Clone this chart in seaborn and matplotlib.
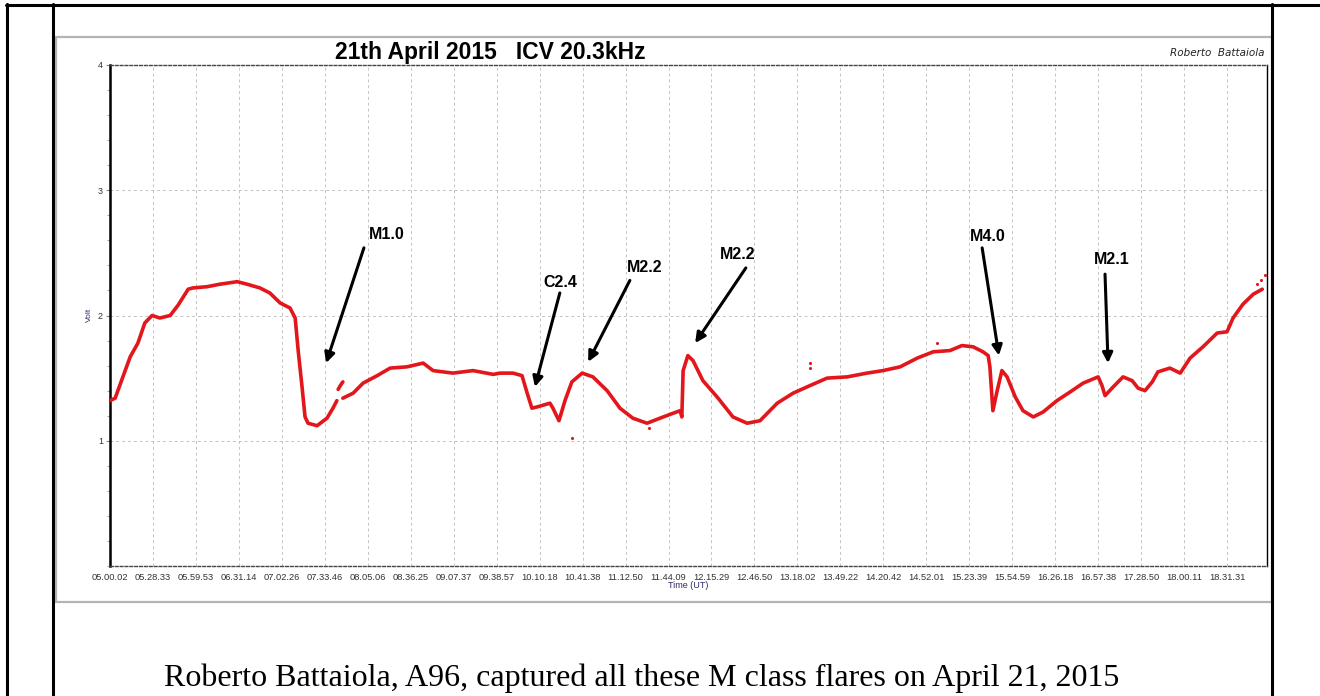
"""
VLF receiver trace, ICV 20.3 kHz, 21 April 2015 (R. Battaiola, A96).
Saves out.png (1320x696).
"""

import numpy as np
import pandas as pd
import matplotlib
matplotlib.use("Agg")
import matplotlib.pyplot as plt
from matplotlib.patches import Rectangle
from matplotlib.lines import Line2D
import seaborn as sns

# ── Data ───────────────────────────────────────────────────────────────────
# x is the position along the time axis in tick steps (0 = 05.00.02)
TIME_LABELS = [
    "05.00.02", "05.28.33", "05.59.53", "06.31.14", "07.02.26", "07.33.46",
    "08.05.06", "08.36.25", "09.07.37", "09.38.57", "10.10.18", "10.41.38",
    "11.12.50", "11.44.09", "12.15.29", "12.46.50", "13.18.02", "13.49.22",
    "14.20.42", "14.52.01", "15.23.39", "15.54.59", "16.26.18", "16.57.38",
    "17.28.50", "18.00.11", "18.31.31",
]

# before the M1.0 gap
pos_a = [0.00, 0.12, 0.30, 0.47, 0.65, 0.81, 0.98, 1.16, 1.40, 1.58, 1.82,
         1.93, 2.26, 2.56, 2.96, 3.19, 3.49, 3.72, 3.96, 4.19, 4.31, 4.38,
         4.47, 4.54, 4.61, 4.82, 5.05, 5.19, 5.28]
volt_a = [1.32, 1.34, 1.51, 1.67, 1.78, 1.94, 2.00, 1.98, 2.00, 2.08, 2.21,
          2.22, 2.23, 2.25, 2.27, 2.25, 2.22, 2.18, 2.10, 2.06, 1.98, 1.72,
          1.43, 1.19, 1.14, 1.12, 1.18, 1.26, 1.32]

# short fragment inside the gap
pos_b = [5.31, 5.36, 5.42]
volt_b = [1.41, 1.44, 1.47]

# rest of the day
pos_c = [5.42, 5.66, 5.89, 6.22, 6.52, 6.91, 7.29, 7.52, 7.98, 8.45, 8.92,
         9.08, 9.38, 9.59, 9.71, 9.82, 9.94, 10.24, 10.31, 10.45, 10.59,
         10.75, 10.99, 11.24, 11.57, 11.87, 12.17, 12.50, 12.80, 13.11,
         13.27, 13.31, 13.34, 13.45, 13.57, 13.80, 14.13, 14.50, 14.83,
         15.13, 15.53, 15.90, 16.29, 16.69, 17.16, 17.62, 17.99, 18.39,
         18.79, 19.16, 19.55, 19.83, 20.09, 20.32, 20.44, 20.48, 20.55,
         20.65, 20.76, 20.88, 21.07, 21.25, 21.49, 21.72, 22.04, 22.35,
         22.65, 23.00, 23.09, 23.16, 23.35, 23.58, 23.79, 23.93, 24.09,
         24.26, 24.39, 24.67, 24.91, 25.14, 25.44, 25.77, 26.00, 26.14,
         26.37, 26.61, 26.82]
volt_c = [1.34, 1.38, 1.46, 1.52, 1.58, 1.59, 1.62, 1.56, 1.54, 1.56, 1.53,
          1.54, 1.54, 1.52, 1.38, 1.26, 1.27, 1.30, 1.26, 1.16, 1.32,
          1.47, 1.54, 1.51, 1.40, 1.26, 1.18, 1.14, 1.18, 1.22,
          1.24, 1.19, 1.56, 1.68, 1.64, 1.48, 1.35, 1.19, 1.14,
          1.16, 1.30, 1.38, 1.44, 1.50, 1.51, 1.54, 1.56, 1.59,
          1.66, 1.71, 1.72, 1.76, 1.75, 1.71, 1.68, 1.59, 1.24,
          1.40, 1.56, 1.51, 1.35, 1.24, 1.19, 1.23, 1.32, 1.39,
          1.46, 1.51, 1.44, 1.36, 1.43, 1.51, 1.48, 1.42, 1.40,
          1.47, 1.55, 1.58, 1.54, 1.66, 1.75, 1.86, 1.87, 1.98,
          2.09, 2.17, 2.21]

# stray samples off the main trace
stray_pos = [10.75, 16.29, 16.29, 19.25, 26.88, 26.80, 26.70, 12.55]
stray_volt = [1.02, 1.58, 1.62, 1.78, 2.32, 2.28, 2.25, 1.10]

# flare labels: (text, text x/y, arrow tail x/y, arrow head x/y)
FLARES = [
    ("M1.0", 6.45, 2.65, 5.91, 2.54, 5.03, 1.62),
    ("C2.4", 10.47, 2.26, 10.47, 2.18, 9.89, 1.43),
    ("M2.2", 12.45, 2.38, 12.10, 2.28, 11.13, 1.63),
    ("M2.2", 14.60, 2.49, 14.80, 2.38, 13.62, 1.78),
    ("M4.0", 20.44, 2.63, 20.30, 2.54, 20.69, 1.68),
    ("M2.1", 23.32, 2.45, 23.16, 2.33, 23.23, 1.62),
]

TRACE_RED = "#e3161b"

df = pd.concat([
    pd.DataFrame({"pos": pos_a, "volt": volt_a, "seg": "a"}),
    pd.DataFrame({"pos": pos_b, "volt": volt_b, "seg": "b"}),
    pd.DataFrame({"pos": pos_c, "volt": volt_c, "seg": "c"}),
])
stray = pd.DataFrame({"pos": stray_pos, "volt": stray_volt})

# ── Figure ─────────────────────────────────────────────────────────────────
sns.set_theme(style="white")
plt.rcParams["font.family"] = ["Liberation Sans", "DejaVu Sans"]

W, H = 1320, 696
fig = plt.figure(figsize=(W / 100, H / 100), dpi=100)
fig.patch.set_facecolor("white")

def fx(px):
    return px / W

def fy(py):
    return 1 - py / H

# grey chart panel (behind the axes)
fig.patches.append(Rectangle((fx(56), fy(602)), fx(1272) - fx(56), fy(37) - fy(602),
                             transform=fig.transFigure, facecolor="none",
                             edgecolor="#b4b4b4", lw=1.6, zorder=-5))

ax = fig.add_axes([fx(110), fy(566), fx(1267) - fx(110), fy(65) - fy(566)])
ax.set_zorder(2)
ax.set_facecolor("white")

sns.lineplot(data=df, x="pos", y="volt", units="seg", estimator=None,
             sort=False, color=TRACE_RED, lw=2.6, ax=ax, zorder=3)
sns.scatterplot(data=stray, x="pos", y="volt", color=TRACE_RED, s=5,
                linewidth=0, ax=ax, zorder=3)

ax.set_xlim(0, 26.93)
ax.set_ylim(0, 4)
ax.set_xticks(range(len(TIME_LABELS)))
ax.set_xticklabels(TIME_LABELS, fontsize=6.7, color="#333333")
ax.set_yticks([1, 2, 3, 4])
ax.set_yticklabels(["1", "2", "3", "4"], fontsize=6.5, color="#333333")
ax.set_yticks(np.arange(0, 4.01, 0.2), minor=True)
ax.tick_params(axis="x", length=0, pad=5)
ax.tick_params(axis="y", which="major", length=3, color="#888888", pad=2,
               left=True, width=0.8)
ax.tick_params(axis="y", which="minor", length=2, color="#aaaaaa", left=True,
               width=0.8)
ax.set_xlabel("")
ax.set_ylabel("")

grid_kw = dict(color="#c4c4c4", lw=0.7, ls=(0, (3, 3)), zorder=1)
for i in range(1, len(TIME_LABELS)):
    ax.axvline(i, **grid_kw)
for v in [1, 2, 3]:
    ax.axhline(v, **grid_kw)

for side in ["top", "bottom"]:
    ax.spines[side].set_linestyle((0, (2, 1.5)))
    ax.spines[side].set_color("#444444")
    ax.spines[side].set_linewidth(1.0)
ax.spines["left"].set_color("black")
ax.spines["left"].set_linewidth(1.8)
ax.spines["right"].set_color("black")
ax.spines["right"].set_linewidth(1.0)

for text, tx, ty, ax0, ay0, ax1, ay1 in FLARES:
    ax.annotate("", xy=(ax1, ay1), xytext=(ax0, ay0),
                arrowprops=dict(arrowstyle="-|>", color="black", lw=2.2,
                                mutation_scale=15, shrinkA=0, shrinkB=0),
                zorder=4)
    ax.text(tx, ty, text, fontsize=11.5, fontweight="bold", ha="center",
            va="center", color="black", zorder=4)

# texts around the axes
fig.text(fx(490), fy(52), "21th April 2015   ICV 20.3kHz", fontsize=16.5,
         fontweight="bold", ha="center", va="center", color="black")
fig.text(fx(1264), fy(53), "Roberto  Battaiola", fontsize=7.5, style="italic",
         ha="right", va="center", color="#222222", family=["DejaVu Sans"])
fig.text(fx(89), fy(315), "Volt", fontsize=6, rotation=90, ha="center",
         va="center", color="#2b2b6b")
fig.text(fx(688), fy(585), "Time (UT)", fontsize=6.5, ha="center",
         va="center", color="#2b2b6b")

# document table frame
frame_kw = dict(color="black", lw=2.2, transform=fig.transFigure)
fig.lines.append(Line2D([fx(7), fx(7)], [0, fy(4)], **frame_kw))
fig.lines.append(Line2D([fx(53), fx(53)], [0, fy(4)], **frame_kw))
fig.lines.append(Line2D([fx(1272), fx(1272)], [0, fy(4)], **frame_kw))
fig.lines.append(Line2D([fx(6), 1], [fy(5), fy(5)], **frame_kw))

fig.text(fx(642), fy(678),
         "Roberto Battaiola, A96, captured all these M class flares on April 21, 2015",
         fontsize=23, ha="center", va="center", color="black",
         family=["Liberation Serif", "DejaVu Serif"])

fig.savefig("out.png", dpi=100, facecolor="white")
plt.close(fig)
print("Saved out.png")
